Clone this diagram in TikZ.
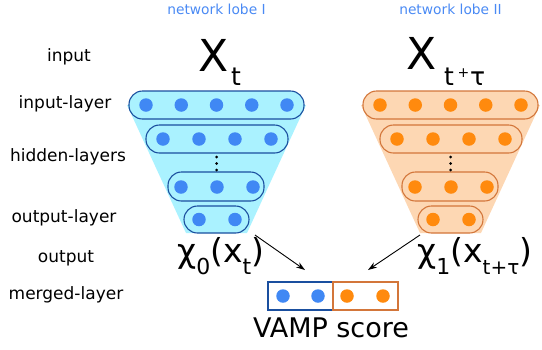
\documentclass[tikz,border=0pt]{standalone}
\usepackage{fontspec}
\setmainfont{DejaVu Sans}
\usetikzlibrary{arrows.meta}
\definecolor{lbfill}{HTML}{AAF2FF}
\definecolor{lbdot}{HTML}{4088F4}
\definecolor{lbline}{HTML}{1A4F9F}
\definecolor{orfill}{HTML}{FDD7B3}
\definecolor{ordot}{HTML}{FF8A0E}
\definecolor{orline}{HTML}{D3763A}
\definecolor{lobetext}{HTML}{4A8AF4}
\tikzset{
  layerL/.style={draw=lbline, fill=lbfill, line width=1.1pt, rounded corners=13.5pt, minimum height=28pt, inner sep=0pt},
  layerR/.style={draw=orline, fill=orfill, line width=1.1pt, rounded corners=13.5pt, minimum height=28pt, inner sep=0pt},
  dotL/.style={circle, fill=lbdot, minimum size=13.5pt, inner sep=0pt},
  dotR/.style={circle, fill=ordot, minimum size=13.5pt, inner sep=0pt},
  vdot/.style={circle, fill=black, minimum size=3pt, inner sep=0pt},
  lab/.style={font=\fontsize{17}{20}\selectfont, inner sep=0pt},
  lobe/.style={font=\fontsize{13.8}{16}\selectfont, text=lobetext, inner sep=0pt},
  bigX/.style={font=\fontsize{44}{48}\selectfont, inner sep=0pt, anchor=base west},
  subX/.style={font=\fontsize{25}{28}\selectfont, inner sep=0pt, anchor=base west},
  outtxt/.style={font=\fontsize{33}{36}\selectfont, inner sep=0pt, anchor=base west},
  mergeL/.style={draw=lbline, line width=1.1pt, minimum width=65pt, minimum height=28pt, inner sep=0pt},
  mergeR/.style={draw=orline, line width=1.1pt, minimum width=65pt, minimum height=28pt, inner sep=0pt},
  arr/.style={-{Stealth[length=9pt,width=6pt]}, line width=0.9pt, black}
}
\newcommand{\sbs}[1]{\raisebox{-12pt}{\fontsize{22}{24}\selectfont #1}}
\newcommand{\sbsr}[1]{\raisebox{-12pt}{\fontsize{20}{22}\selectfont #1}}
\begin{document}
\begin{tikzpicture}[x=1pt,y=-1pt]
\useasboundingbox (0,0) rectangle (542,349);
% row labels
\node[lab] (linput) at (69,57) {input};
\node[lab] (linlayer) at (65,104) {input-layer};
\node[lab] (lhidden) at (68,157) {hidden-layers};
\node[lab] (loutlayer) at (64,218) {output-layer};
\node[lab] (loutput) at (66,258) {output};
\node[lab] (lmerged) at (66,295) {merged-layer};
% lobe titles
\node[lobe] (lobeI) at (216.5,9) {network lobe I};
\node[lobe] (lobeII) at (450.5,9) {network lobe II};
% funnels
\fill[lbfill] (127,105) -- (306,105) -- (247,233) -- (186,233) -- cycle;
\fill[orfill] (361,105) -- (540,105) -- (481,233) -- (420,233) -- cycle;
% left layers
\node[layerL, minimum width=175pt] (L1) at (216.5,105) {};
\node[layerL, minimum width=142pt] (L2) at (217,139) {};
\node[layerL, minimum width=96pt, minimum height=29pt] (L3) at (216,186.5) {};
\node[layerL, minimum width=65pt, minimum height=27pt] (L4) at (216.5,219.5) {};
\foreach \x [count=\i] in {146,181.25,216.5,251.75,287} \node[dotL] (dL1-\i) at (\x,105) {};
\foreach \x [count=\i] in {163,199,235,271} \node[dotL] (dL2-\i) at (\x,139) {};
\foreach \x [count=\i] in {181,217,253} \node[dotL] (dL3-\i) at (\x,187) {};
\foreach \x [count=\i] in {199,235} \node[dotL] (dL4-\i) at (\x,219.5) {};
\foreach \y [count=\i] in {157,163.5,170} \node[vdot] (vL-\i) at (216.7,\y) {};
% right layers
\node[layerR, minimum width=175pt] (R1) at (450.5,105) {};
\node[layerR, minimum width=142pt] (R2) at (451,139) {};
\node[layerR, minimum width=96pt, minimum height=29pt] (R3) at (450,186.5) {};
\node[layerR, minimum width=65pt, minimum height=27pt] (R4) at (450.5,219.5) {};
\foreach \x [count=\i] in {380,415.25,450.5,485.75,521} \node[dotR] (dR1-\i) at (\x,105) {};
\foreach \x [count=\i] in {397,433,469,505} \node[dotR] (dR2-\i) at (\x,139) {};
\foreach \x [count=\i] in {415,451,487} \node[dotR] (dR3-\i) at (\x,187) {};
\foreach \x [count=\i] in {433,469} \node[dotR] (dR4-\i) at (\x,219.5) {};
\foreach \y [count=\i] in {157,163.5,170} \node[vdot] (vR-\i) at (450.7,\y) {};
% inputs
\node[bigX] (XL) at (198,71) {X};
\node[subX] (tL) at (231,85) {t};
\node[bigX] (XR) at (406,69) {X};
\node[subX] (tR) at (444,85) {t};
\node[font=\fontsize{14}{16}\selectfont, inner sep=0pt] (pR) at (463.5,73) {+};
\node[subX] (tauR) at (470,85) {τ};
% outputs
\node[outtxt] (oL) at (177,262) {χ\sbs{0}(x\sbs{t})};
\node[outtxt] (oR) at (417,262) {χ\sbs{1}(x\sbsr{t+τ})};
% merged layer
\node[mergeL] (mL) at (300.5,296) {};
\node[mergeR] (mR) at (365.5,296) {};
\node[dotL] (mdL1) at (283,296) {};
\node[dotL] (mdL2) at (318,296) {};
\node[dotR] (mdR1) at (347,296) {};
\node[dotR] (mdR2) at (383,296) {};
\node[font=\fontsize{27}{30}\selectfont, inner sep=0pt] (vamp) at (331,328) {VAMP score};
% arrows
\coordinate (aLs) at (255,235);
\coordinate (aLe) at (305,270);
\coordinate (aRs) at (420,235);
\coordinate (aRe) at (368,270);
\draw[arr] (aLs) -- (aLe);
\draw[arr] (aRs) -- (aRe);
\end{tikzpicture}
\end{document}
